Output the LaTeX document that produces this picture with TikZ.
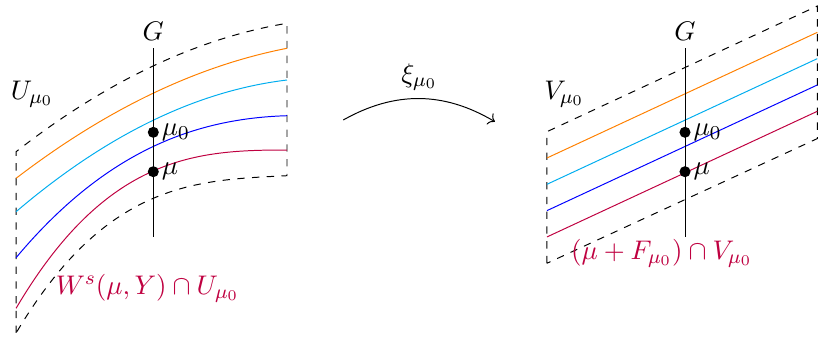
\documentclass[tikz,border=0pt]{standalone}
\usepackage{amsmath}
\usepackage{xcolor}
\usepackage{tikz}
\usetikzlibrary{arrows.meta,calc,positioning}
\tikzset{
  wbox/.style={black, dashed, line width=0.4pt},
  wleaf/.style={line width=0.4pt},
  waxis/.style={black, line width=0.4pt},
  wdot/.style={circle, fill=black, inner sep=0pt, minimum size=4.5pt},
  wlbl/.style={black},
  wred/.style={purple},
  wmap/.style={->, black, line width=0.4pt},
}

\begin{document}
\begin{tikzpicture}[font=\fontsize{10.95}{13.6}\selectfont]

  \useasboundingbox (0,0) rectangle (11.686,4.9);

  % Bereich U links
  \draw[wbox] (0.23,0.143) -- (0.23,2.733)
    .. controls (1.52,3.740) and (2.81,4.352) .. (4.10,4.567)
    -- (4.10,2.39)
    .. controls (2.81,2.325) and (1.52,2.314) .. (0.23,0.143);

  % Blaetter links
  \draw[wleaf, orange] (0.23,2.353) .. controls (1.52,3.340) and (2.81,3.958) .. (4.10,4.21);
  \draw[wleaf, cyan]   (0.23,1.876) .. controls (1.52,2.975) and (2.81,3.602) .. (4.10,3.757);
  \draw[wleaf, blue]   (0.23,1.219) .. controls (1.52,2.759) and (2.81,3.208) .. (4.10,3.247);
  \draw[wleaf, purple] (0.23,0.496) .. controls (1.52,2.684) and (2.81,2.757) .. (4.10,2.757);

  % Bereich V rechts
  \draw[wbox] (7.814,1.139) -- (7.814,3.019) -- (11.676,4.814)
    -- (11.676,2.92) -- cycle;

  % Blaetter rechts
  \foreach \c [count=\i] in {orange,cyan,blue,purple}
    \draw[wleaf, \c] (7.814,{3.019-0.376*\i}) -- (11.676,{4.814-0.376*\i});

  % Achsen G
  \node[wlbl] (gL) at (2.19,4.447) {$G$};
  \node[wlbl] (gR) at (9.786,4.447) {$G$};
  \draw[waxis] (2.19,1.519) -- (2.19,4.21);
  \draw[waxis] (9.786,1.519) -- (9.786,4.21);

  % Punkte
  \node[wdot] (m0L) at (2.19,3.01) {};
  \node[wdot] (mL)  at (2.19,2.447) {};
  \node[wdot] (m0R) at (9.786,3.01) {};
  \node[wdot] (mR)  at (9.786,2.447) {};
  \node[right] (lm0L) at (m0L.center) {$\mu_0$};
  \node[right] (lmL)  at (mL.center)  {$\mu$};
  \node[right] (lm0R) at (m0R.center) {$\mu_0$};
  \node[right] (lmR)  at (mR.center)  {$\mu$};

  % Beschriftungen
  \node[wlbl] (uL) at (0.46,3.56) {$U_{\mu_0}$};
  \node[wlbl] (vR) at (8.06,3.56) {$V_{\mu_0}$};
  \node[wred] (wsL) at (2.107,0.786) {$W^s(\mu,Y)\cap U_{\mu_0}$};
  \node[wred] (fR)  at (9.453,1.286) {$(\mu+F_{\mu_0})\cap V_{\mu_0}$};

  % Abbildung
  \coordinate (xs) at (4.904,3.186);
  \coordinate (xe) at (7.071,3.161);
  \draw[wmap] (xs) to[bend left=30] node[above] (xlbl) {$\xi_{\mu_0}$} (xe);

\end{tikzpicture}
\end{document}
